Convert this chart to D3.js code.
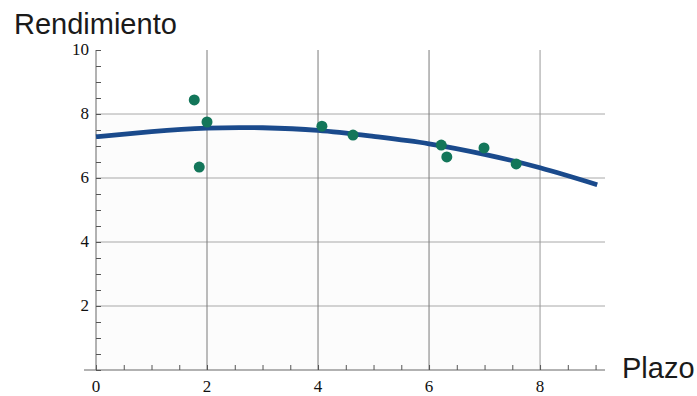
<!DOCTYPE html>
<html>
<head>
<meta charset="utf-8">
<script src="https://cdn.jsdelivr.net/npm/d3@7"></script>
<style>
  html, body { margin: 0; padding: 0; background: #fff; }
  svg { display: block; }
  .num { font-family: "Liberation Serif", "DejaVu Serif", serif; font-size: 17px; fill: #111; }
  .title { font-family: "Liberation Sans", Arial, sans-serif; fill: #1a1a1a; }
</style>
</head>
<body>
<svg id="chart" width="697" height="396"></svg>
<script>
// Observed yields by term
const plazo = [1.77, 2.0, 1.86, 4.07, 4.63, 6.22, 6.32, 6.99, 7.57];
const rendimiento = [8.44, 7.75, 6.34, 7.62, 7.34, 7.03, 6.66, 6.94, 6.44];

// Fitted yield curve, sampled along the term axis
const curvaPlazo = [0, 1, 2, 3, 4, 5, 6, 7, 8, 9.03];
const curvaRend = [7.29, 7.45, 7.56, 7.57, 7.49, 7.30, 7.07, 6.74, 6.32, 5.79];

const xTicks = [0, 2, 4, 6, 8];
const yTicks = [2, 4, 6, 8, 10];

const svg = d3.select("#chart");
const x = d3.scaleLinear().domain([0, 9.17]).range([96, 605]);
const y = d3.scaleLinear().domain([0, 10]).range([370, 50]);

// faint panel tint
svg.append("rect")
  .attr("x", x(0)).attr("y", y(8))
  .attr("width", x(8) - x(0)).attr("height", y(0) - y(8))
  .attr("fill", "#fcfcfc");

// horizontal grid
svg.append("g").selectAll("line")
  .data(yTicks.filter(d => d < 10))
  .join("line")
  .attr("x1", x(0)).attr("x2", x(9.17))
  .attr("y1", d => y(d)).attr("y2", d => y(d))
  .attr("stroke", "#a8a8a8").attr("stroke-width", 1);

// vertical grid
svg.append("g").selectAll("line")
  .data(xTicks.filter(d => d > 0))
  .join("line")
  .attr("x1", d => x(d)).attr("x2", d => x(d))
  .attr("y1", y(10)).attr("y2", y(0))
  .attr("stroke", d => d === 8 ? "#9a9a9a" : "#7a7a7a").attr("stroke-width", 1);

// axes with half-unit minor ticks pointing inward
const xAxis = d3.axisBottom(x)
  .tickValues(d3.range(0, 9.01, 0.5))
  .tickSize(-5)
  .tickFormat(() => "");
const gx = svg.append("g").attr("transform", `translate(0,${y(0)})`).call(xAxis);
gx.select(".domain").attr("d", `M${x(0) - 12},0H${x(9.17)}`).attr("stroke", "#666");
gx.selectAll(".tick line").attr("stroke", "#555");

const yAxis = d3.axisLeft(y)
  .tickValues(d3.range(0, 10.01, 0.5))
  .tickSize(-5)
  .tickFormat(() => "");
const gy = svg.append("g").attr("transform", `translate(${x(0)},0)`).call(yAxis);
gy.select(".domain").attr("d", `M0,${y(10)}V${y(0)}`).attr("stroke", "#666");
gy.selectAll(".tick line").attr("stroke", "#555");

// tick labels
svg.append("g").selectAll("text")
  .data(xTicks)
  .join("text")
  .attr("class", "num")
  .attr("x", d => x(d)).attr("y", 392)
  .attr("text-anchor", "middle")
  .text(d => d);

svg.append("g").selectAll("text")
  .data(yTicks)
  .join("text")
  .attr("class", "num")
  .attr("x", 89).attr("y", d => y(d) + 5)
  .attr("text-anchor", "end")
  .text(d => d);

// fitted curve
const line = d3.line()
  .x((d, i) => x(curvaPlazo[i]))
  .y(d => y(d))
  .curve(d3.curveNatural);
svg.append("path")
  .datum(curvaRend)
  .attr("d", line)
  .attr("fill", "none")
  .attr("stroke", "#1a4a8c")
  .attr("stroke-width", 4.8)
  .attr("stroke-linecap", "butt");

// observations
svg.append("g").selectAll("circle")
  .data(plazo)
  .join("circle")
  .attr("cx", d => x(d))
  .attr("cy", (d, i) => y(rendimiento[i]))
  .attr("r", 5.5)
  .attr("fill", "#13765a");

// axis titles
svg.append("text")
  .attr("class", "title")
  .attr("x", 14).attr("y", 34)
  .attr("font-size", 29)
  .text("Rendimiento");

svg.append("text")
  .attr("class", "title")
  .attr("x", 622).attr("y", 378)
  .attr("font-size", 29)
  .text("Plazo");
</script>
</body>
</html>
